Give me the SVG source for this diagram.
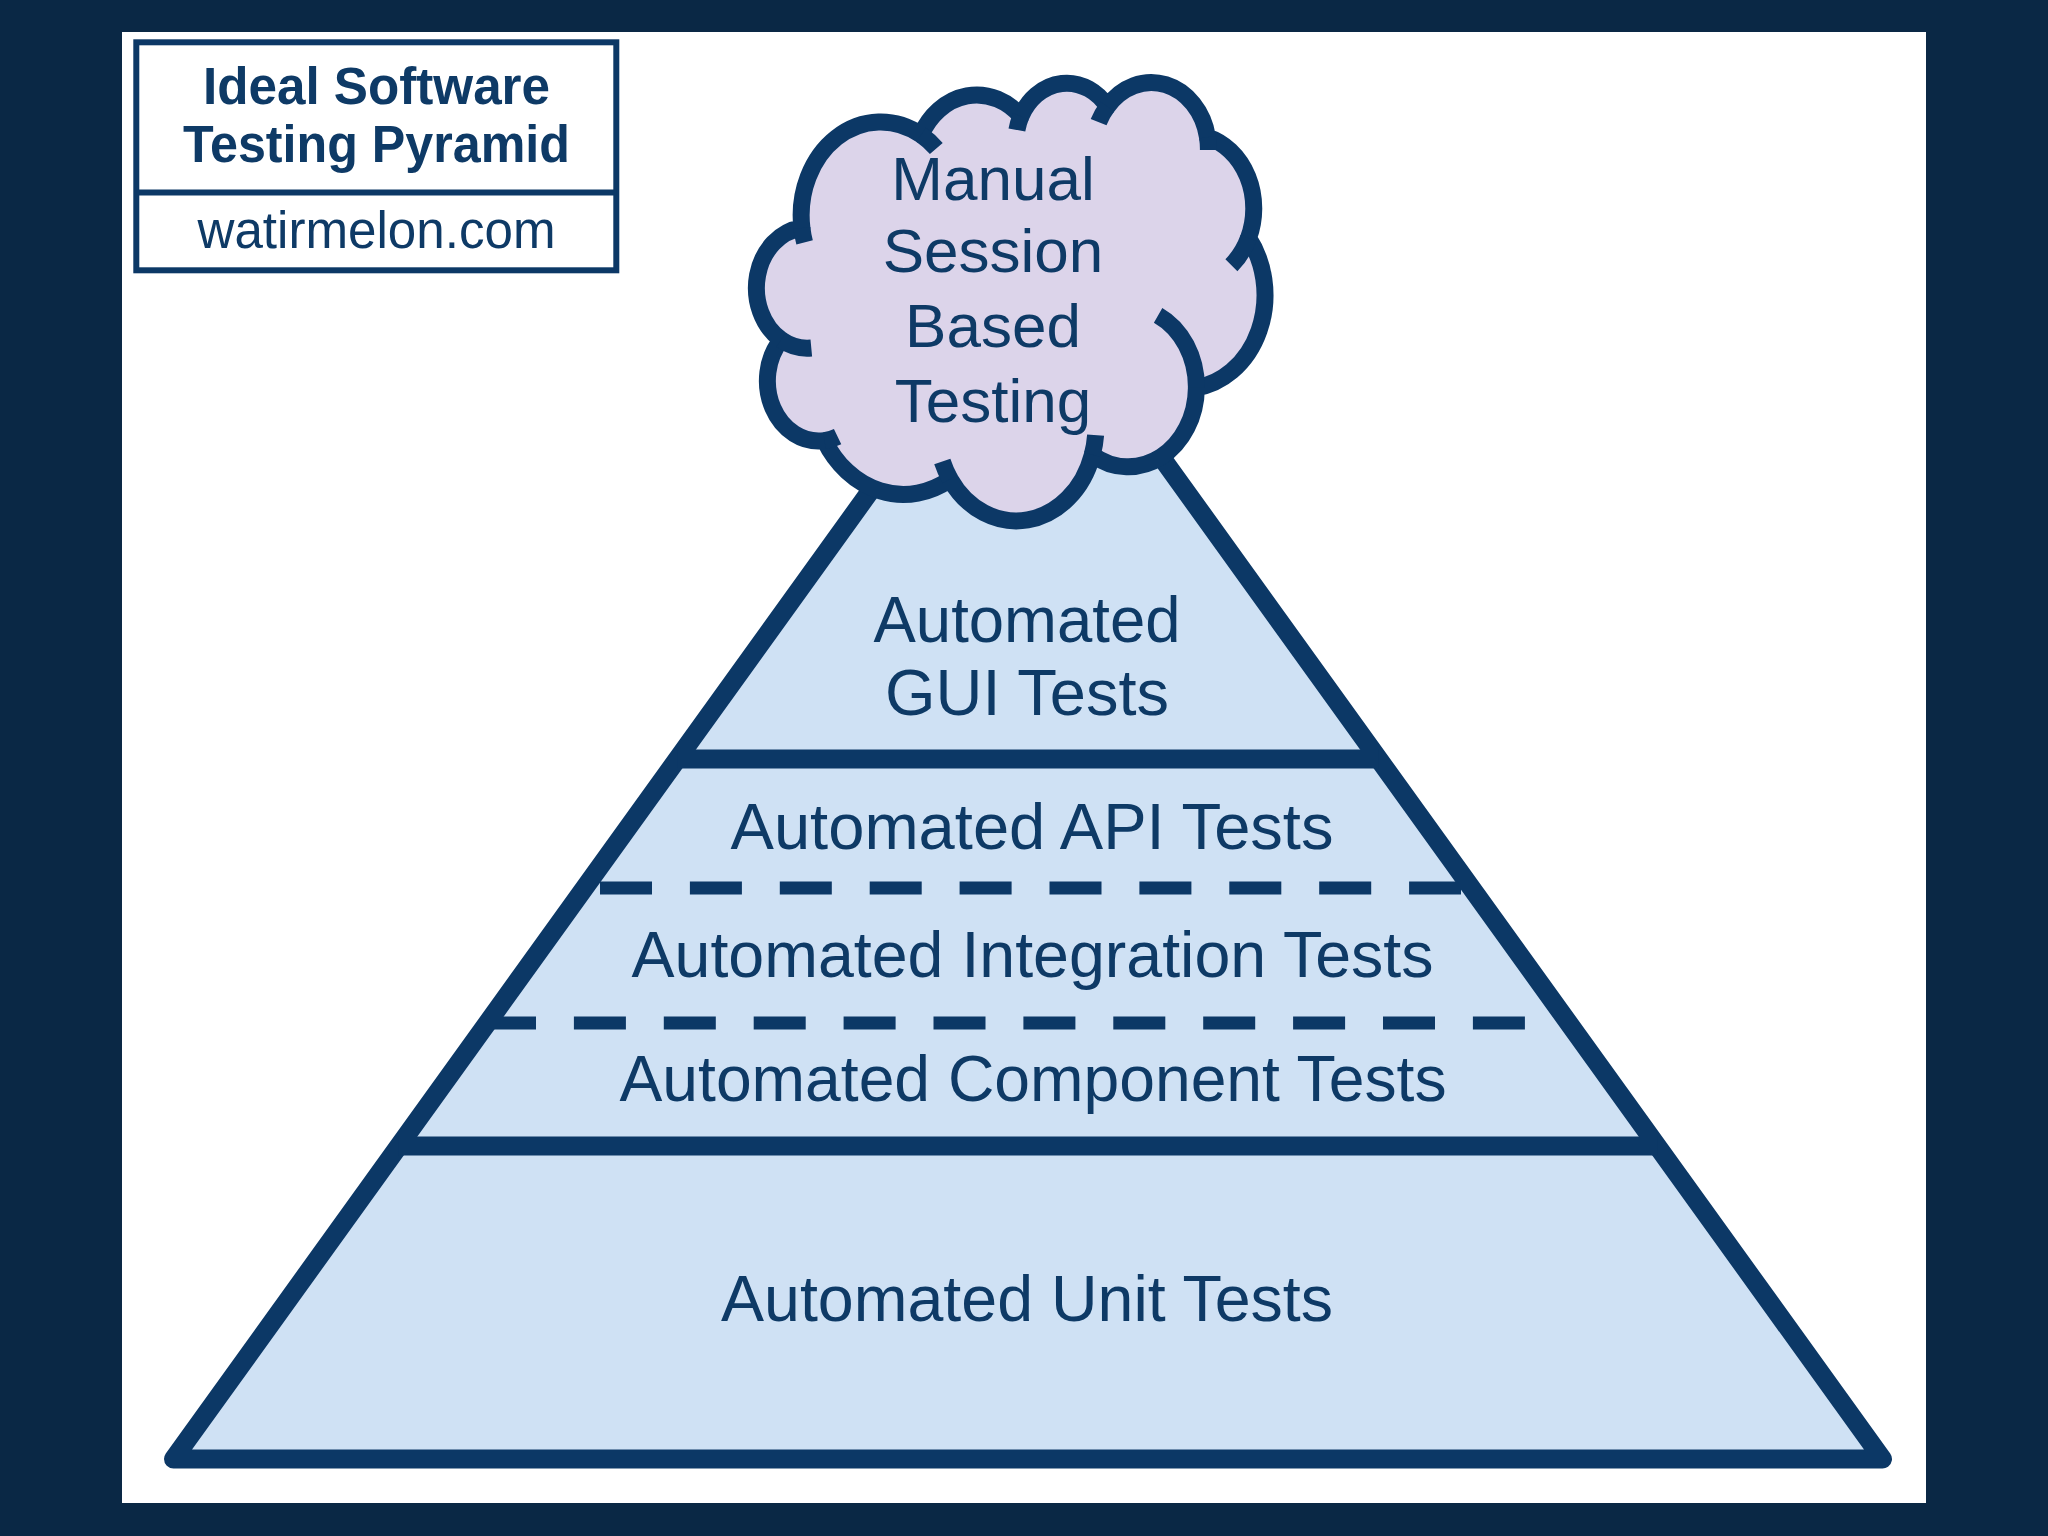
<svg xmlns="http://www.w3.org/2000/svg" width="2048" height="1536" viewBox="0 0 2048 1536">
  <style>
    .ink { stroke: #0c3866; fill: none; }
    .solid { stroke-width: 19; }
    .dash { stroke-width: 13; stroke-dasharray: 52 37.9; }
    .lbl { font-family: "Liberation Sans", Arial, sans-serif; fill: #0e3a66; text-anchor: middle; }
    .big { font-size: 65px; }
    .cloudtxt { font-size: 62px; }
    .title { font-size: 51px; font-weight: bold; }
    .site { font-size: 51px; }
  </style>
  <rect x="0" y="0" width="2048" height="1536" fill="#0a2845"/>
  <rect id="panel" x="122" y="32" width="1804" height="1471" fill="#ffffff"/>

  <g id="title-box">
    <rect x="136.3" y="42.3" width="480" height="228" fill="#ffffff" stroke="#0c3866" stroke-width="6"/>
    <line x1="136.3" y1="192.5" x2="616.3" y2="192.5" stroke="#0c3866" stroke-width="6"/>
    <text class="lbl title" x="376.5" y="104" textLength="347" lengthAdjust="spacingAndGlyphs">Ideal Software</text>
    <text class="lbl title" x="376.5" y="162" textLength="387" lengthAdjust="spacingAndGlyphs">Testing Pyramid</text>
    <text class="lbl site" x="376.5" y="248" textLength="358" lengthAdjust="spacingAndGlyphs">watirmelon.com</text>
  </g>

  <g id="pyramid">
    <polygon points="1028,272 1882.5,1459 173.5,1459" fill="#cfe1f4" stroke="#0c3866" stroke-width="19" stroke-linejoin="round"/>
  </g>

  <g id="layer-dividers">
    <line class="ink solid" x1="677.4" y1="759" x2="1378.6" y2="759"/>
    <line class="ink dash" x1="600" y1="888" x2="1461" y2="888"/>
    <line class="ink dash" x1="484" y1="1023" x2="1525" y2="1023"/>
    <line class="ink solid" x1="398.8" y1="1146" x2="1657.2" y2="1146"/>
  </g>

  <g id="layer-gui">
    <text class="lbl big" x="1027" y="642" textLength="307" lengthAdjust="spacingAndGlyphs">Automated</text>
    <text class="lbl big" x="1027" y="715" textLength="284" lengthAdjust="spacingAndGlyphs">GUI Tests</text>
  </g>
  <g id="layer-api">
    <text class="lbl big" x="1032" y="848.5" textLength="603" lengthAdjust="spacingAndGlyphs">Automated API Tests</text>
  </g>
  <g id="layer-integration">
    <text class="lbl big" x="1032.5" y="977" textLength="802" lengthAdjust="spacingAndGlyphs">Automated Integration Tests</text>
  </g>
  <g id="layer-component">
    <text class="lbl big" x="1033" y="1100.5" textLength="827" lengthAdjust="spacingAndGlyphs">Automated Component Tests</text>
  </g>
  <g id="layer-unit">
    <text class="lbl big" x="1027" y="1321" textLength="612" lengthAdjust="spacingAndGlyphs">Automated Unit Tests</text>
  </g>

  <g id="cloud">
    <path d="M 801.9 228.0 A 79.56 93.39 0 0 1 921.0 134.8 A 62.83 73.85 0 0 1 1020.9 116.3 A 51.43 60.41 0 0 1 1107.4 106.5 A 57.23 67.02 0 0 1 1207.5 137.1 A 62.83 73.91 0 0 1 1248.5 238.0 A 79.82 93.69 0 0 1 1196.4 387.8 A 68.16 79.94 0 0 1 1092.3 454.8 A 79.55 93.64 0 0 1 950.1 479.2 A 90.96 107.14 0 0 1 824.5 440.6 A 51.37 60.14 0 0 1 781.2 339.8 A 51.19 60.41 0 0 1 801.9 228.0 Z" fill="#dcd4ea" stroke="#0c3866" stroke-width="17" stroke-linejoin="round"/>
    <path class="ink" stroke-width="17" d="M 811.3 348.0 A 51.19 60.41 0 0 1 781.2 339.8 M 837.6 436.6 A 51.37 60.14 0 0 1 824.5 440.6 M 950.1 479.2 A 79.55 93.64 0 0 1 942.3 461.5 M 1095.6 435.1 A 79.55 93.64 0 0 1 1092.3 454.8 M 1158.1 315.3 A 68.16 79.94 0 0 1 1196.4 387.8 M 1248.5 238.0 A 62.83 73.91 0 0 1 1231.4 265.2 M 1207.5 137.1 A 57.23 67.02 0 0 1 1208.4 150.0 M 1098.6 122.2 A 57.23 67.02 0 0 1 1107.4 106.5 M 1016.9 130.0 A 51.43 60.41 0 0 1 1020.9 116.3 M 921.0 134.8 A 79.56 93.39 0 0 1 936.3 148.5 M 804.6 242.4 A 79.56 93.39 0 0 1 801.9 228.0"/>
    <text class="lbl cloudtxt" x="993" y="200">Manual</text>
    <text class="lbl cloudtxt" x="993" y="272">Session</text>
    <text class="lbl cloudtxt" x="993" y="347">Based</text>
    <text class="lbl cloudtxt" x="993" y="422">Testing</text>
  </g>
</svg>
